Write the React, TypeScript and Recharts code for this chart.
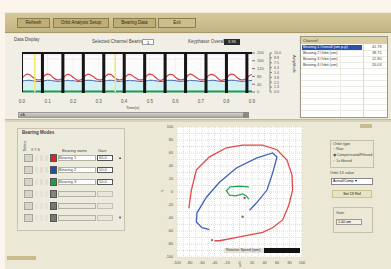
import React from 'react';
import {
  ComposedChart, Line, Area, XAxis, YAxis, ReferenceLine, CartesianGrid,
  ScatterChart, Scatter,
} from 'recharts';

// ---- waveform panel data (time in s, amplitude 0-100 of display range)
const TIME_STEP = 0.01;
const RED_WAVE = [
  35, 42, 46, 44, 39, 34, 31, 31,
  36, 43, 46, 44, 38, 33, 31, 32,
  35, 42, 45, 43, 38, 33, 30, 31,
  36, 43, 46, 43, 39, 34, 31, 31,
  35, 42, 46, 44, 38, 33, 31, 32,
  36, 42, 45, 43, 38, 34, 31, 31,
  35, 43, 46, 44, 39, 33, 30, 31,
  36, 42, 45, 44, 38, 33, 31, 32,
  35, 43, 46, 43, 38, 34, 31, 31,
  36, 42, 45, 44, 39, 33, 30, 31,
  35, 43, 46, 44, 38, 33, 31, 32,
  36, 42, 45,
];
const BLUE_WAVE = [
  28, 29, 30, 30, 29, 28, 27, 27,
  28, 29, 30, 30, 29, 28, 27, 28,
  28, 29, 30, 29, 29, 28, 27, 27,
  28, 30, 30, 30, 29, 28, 27, 27,
  28, 29, 30, 30, 29, 28, 27, 28,
  28, 29, 30, 29, 29, 28, 27, 27,
  28, 29, 30, 30, 29, 28, 27, 27,
  28, 30, 30, 30, 29, 28, 27, 28,
  28, 29, 30, 29, 29, 28, 27, 27,
  28, 29, 30, 30, 29, 28, 27, 27,
  28, 30, 30, 30, 29, 28, 27, 28,
  28, 29, 30,
];
const KEYPHASOR_PULSES = [0.08, 0.16, 0.24, 0.32, 0.4, 0.48, 0.56, 0.64, 0.72, 0.8, 0.88];
const CURSORS = [0.05, 0.365];
const TIME_TICKS = [0, 0.1, 0.2, 0.3, 0.4, 0.5, 0.6, 0.7, 0.8, 0.9];
const RIGHT_TICKS_A = [0, 20, 40, 60, 80, 100];
const RIGHT_TICKS_B = [0, 12.5, 25, 37.5, 50, 62.5, 75, 87.5, 100];
const GREEN_LEVEL = 1;
const PINK_LEVELS = [95, 85];

// ---- orbit plot data (um)
const ORBIT_RED = [
  { x: -81, y: -25 }, { x: -77, y: 3 }, { x: -69, y: 34 }, { x: -48, y: 54 },
  { x: -21, y: 68 }, { x: 5, y: 72 }, { x: 37, y: 72 }, { x: 60, y: 65 },
  { x: 76, y: 49 }, { x: 84, y: 26 }, { x: 85, y: 3 }, { x: 79, y: -20 },
  { x: 69, y: -43 }, { x: 53, y: -55 }, { x: 37, y: -62 }, { x: 0, y: -69 },
  { x: -32, y: -75 }, { x: -40, y: -75 },
];
const ORBIT_BLUE = [
  { x: -48, y: -58 }, { x: -60, y: -55 }, { x: -69, y: -46 }, { x: -68, y: -32 },
  { x: -53, y: -8 }, { x: -32, y: 15 }, { x: -5, y: 37 }, { x: 27, y: 52 },
  { x: 53, y: 60 }, { x: 60, y: 54 }, { x: 53, y: 29 }, { x: 44, y: 3 },
  { x: 27, y: -17 }, { x: 16, y: -28 },
];
const ORBIT_GREEN = [
  { x: 15, y: 8 }, { x: 0, y: 9 }, { x: -15, y: 8 }, { x: -21, y: 2 },
  { x: -16, y: -5 }, { x: -6, y: -6 }, { x: 5, y: -3 }, { x: 11, y: -6 },
  { x: 15, y: -11 },
];
const ORBIT_MARKS = [{ x: 5, y: -38 }, { x: -44, y: -74 }];
const ORBIT_KEY = [{ x: 8, y: -9 }];
const ORBIT_TICKS = [-100, -90, -80, -70, -60, -50, -40, -30, -20, -10, 0, 10, 20, 30, 40, 50, 60, 70, 80, 90, 100];

const BEARINGS = ['Bearing 1', 'Bearing 2', 'Bearing 3', '', '', ''];
const BEARING_COLORS = ['#d8262a', '#1f4fa8', '#1f9e48', '#858378', '#7a786e', '#7a786e'];
const BEARING_GAINS = ['60.0', '50.0', '50.0', '', '', ''];
const TABLE_NAMES = ['Bearing 1 Overall (um p-p)', 'Bearing 2 Orbit (um)', 'Bearing 3 Orbit (um)', 'Bearing 4 Orbit (um)'];
const TABLE_VALUES = ['41.78', '38.75', '12.80', '20.03'];
const TOOLBAR = ['Refresh', 'Orbit Analysis Setup', 'Bearing Data', 'Exit'];

const rows = RED_WAVE.map((r, i) => ({ t: +(i * TIME_STEP).toFixed(2), red: r, blue: BLUE_WAVE[i] }));
const kpData: { t: number; v: number }[] = [{ t: 0, v: 0 }, { t: 0, v: 100 }];
KEYPHASOR_PULSES.forEach((p) => {
  kpData.push({ t: p - 0.002, v: 100 }, { t: p - 0.002, v: 0 }, { t: p + 0.002, v: 0 }, { t: p + 0.002, v: 100 });
});
kpData.push({ t: 0.9, v: 100 });

const FONT = '"Liberation Sans", Arial, sans-serif';
const tiny: React.CSSProperties = { position: 'absolute', fontSize: 4.5, color: '#444', fontFamily: FONT, whiteSpace: 'nowrap', lineHeight: 1 };
const abs = (l: number, t: number, w: number, h: number, extra: React.CSSProperties = {}): React.CSSProperties => ({
  position: 'absolute', left: l, top: t, width: w, height: h, boxSizing: 'border-box', ...extra,
});
const noShape = () => <g />;
const smallDot = (fill: string) => (p: any) => <circle cx={p.cx} cy={p.cy} r={1.2} fill={fill} />;

export default function App() {
  return (
    <div style={abs(0, 0, 391, 269, { background: '#fcf5ee', overflow: 'hidden', fontFamily: FONT })}>
      {/* main window */}
      <div style={abs(5, 12, 386, 257, { background: '#ebe8d6' })} />
      {/* toolbar */}
      <div style={abs(5, 13, 386, 20, { background: 'linear-gradient(#d6c99b,#c3b482)', borderBottom: '1px solid #a89a68' })} />
      {TOOLBAR.map((b, i) => (
        <div key={b} style={abs([17, 53, 113, 158][i], 18, [33, 56, 43, 38][i], 10, {
          background: i === 3 ? '#cdbf8c' : '#bfae78', border: '1px solid #8c7d4e', fontSize: 4.5, color: '#332a10',
          textAlign: 'center', lineHeight: '8px', whiteSpace: 'nowrap', overflow: 'hidden',
        })}>{b}</div>
      ))}
      {/* waveform area background */}
      <div style={abs(5, 34, 294, 86, { background: '#f1efe5' })} />
      <div style={{ ...tiny, left: 14, top: 38 }}>Data Display</div>
      <div style={{ ...tiny, left: 92, top: 40 }}>Selected Channel Bearing 1</div>
      <div style={abs(142, 39, 12, 6, { background: '#fff', border: '1px solid #999', fontSize: 4, textAlign: 'center' })}>1</div>
      <div style={{ ...tiny, left: 188, top: 40 }}>Keyphasor Overall</div>
      <div style={abs(224, 39, 16, 6, { background: '#2b2b2b', color: '#fff', fontSize: 4, textAlign: 'center' })}>3.95</div>

      <div style={{ position: 'absolute', left: 0, top: 45 }}>
        <ComposedChart width={300} height={62} margin={{ top: 8, right: 16, left: 22, bottom: 3 }}>
          <CartesianGrid stroke="#f6eef3" fill="#fdfcfd" yAxisId="l" />
          <XAxis type="number" dataKey="t" domain={[0, 0.9]} ticks={TIME_TICKS} height={12}
            tick={{ fontSize: 4.5, fill: '#555' }} tickLine={false} axisLine={false}
            tickFormatter={(v: number) => v.toFixed(1)} allowDataOverflow interval={0} />
          <YAxis yAxisId="l" hide domain={[0, 100]} type="number" />
          <YAxis yAxisId="r1" orientation="right" domain={[0, 100]} ticks={RIGHT_TICKS_A} width={18} interval={0}
            tick={{ fontSize: 4, fill: '#555' }} tickSize={3} axisLine={false} tickLine={{ stroke: '#777' }}
            tickFormatter={(v: number) => (v * 2).toFixed(0)} />
          <YAxis yAxisId="r2" orientation="right" domain={[0, 100]} ticks={RIGHT_TICKS_B} width={14} interval={0}
            tick={{ fontSize: 3.6, fill: '#555' }} tickSize={2} axisLine={{ stroke: '#888' }} tickLine={{ stroke: '#888' }}
            tickFormatter={(v: number) => (v / 10).toFixed(1)} />
          <Line yAxisId="r1" data={rows} dataKey="red" stroke="transparent" dot={false} isAnimationActive={false} />
          <Line yAxisId="r2" data={rows} dataKey="blue" stroke="transparent" dot={false} isAnimationActive={false} />
          {PINK_LEVELS.map((y) => (
            <ReferenceLine key={y} yAxisId="l" y={y} stroke="#f1dfe9" strokeWidth={0.8} />
          ))}
          <Area yAxisId="l" data={rows} dataKey="blue" type="monotone" stroke="#3d5fb0" strokeWidth={1}
            fill="#d3f1f4" fillOpacity={1} baseValue={0} isAnimationActive={false} />
          <Line yAxisId="l" data={rows} dataKey="red" type="monotone" stroke="#d9413f" strokeWidth={1.2}
            dot={false} isAnimationActive={false} />
          <ReferenceLine yAxisId="l" y={GREEN_LEVEL} stroke="#1e9c4e" strokeWidth={2} />
          {CURSORS.map((x) => (
            <ReferenceLine key={x} yAxisId="l" x={x} stroke="#eee86a" strokeWidth={1.5} />
          ))}
          <Line yAxisId="l" data={kpData} dataKey="v" type="linear" stroke="#151515" strokeWidth={2}
            dot={false} isAnimationActive={false} />
        </ComposedChart>
      </div>
      <div style={{ ...tiny, left: 285, top: 62, transform: 'rotate(90deg)', fontSize: 4 }}>Amplitude</div>
      <div style={{ ...tiny, left: 126, top: 106, fontSize: 4 }}>Time(s)</div>
      {/* scrollbar */}
      <div style={abs(18, 112, 231, 6, { background: 'linear-gradient(#d2d2cc,#a9a9a3)', border: '1px solid #999' })} />
      <div style={{ ...tiny, left: 20, top: 113, fontSize: 4 }}>dA</div>
      <div style={abs(243, 112, 6, 6, { background: '#8a8a84' })} />

      {/* value table */}
      <div style={abs(300, 36, 88, 82, { background: '#fff', border: '1px solid #9c9884' })} />
      <div style={abs(301, 37, 86, 7, { background: '#d9cda2' })} />
      <div style={{ ...tiny, left: 303, top: 38.5, fontSize: 4 }}>Channel</div>
      {[50, 56, 62, 68, 74, 80, 86, 92, 98, 104, 110].map((y) => (
        <div key={y} style={abs(301, y, 86, 1, { background: '#ecebe4' })} />
      ))}
      <div style={abs(340, 44, 1, 73, { background: '#ecebe4' })} />
      <div style={abs(363, 44, 1, 73, { background: '#dcdad0' })} />
      <div style={abs(302, 45, 60, 5, { background: '#2a52aa' })} />
      {TABLE_NAMES.map((n, i) => (
        <React.Fragment key={n}>
          <div style={{ ...tiny, left: 303, top: 45.5 + i * 6, fontSize: 3.8, color: i === 0 ? '#fff' : '#333' }}>{n}</div>
          <div style={{ ...tiny, left: 372, top: 45.5 + i * 6, fontSize: 3.8 }}>{TABLE_VALUES[i]}</div>
        </React.Fragment>
      ))}

      {/* divider */}
      <div style={abs(5, 119, 386, 3, { background: '#d9d3b8', borderTop: '1px solid #c2bb9c' })} />
      <div style={abs(360, 124, 12, 4, { background: '#c9bd90' })} />

      {/* bearing modes group */}
      <div style={abs(17, 128, 108, 103, { border: '1px solid #c7c3b0', background: '#edebdd' })} />
      <div style={{ ...tiny, left: 22, top: 131, fontWeight: 'bold' }}>Bearing Modes</div>
      <div style={{ ...tiny, left: 21, top: 144, fontSize: 3.8, transform: 'rotate(-90deg)' }}>Select</div>
      <div style={{ ...tiny, left: 31, top: 149, fontSize: 3.5 }}>X  Y  S</div>
      <div style={{ ...tiny, left: 62, top: 149, fontSize: 4 }}>Bearing name</div>
      <div style={{ ...tiny, left: 98, top: 149, fontSize: 4 }}>Gain</div>
      {BEARINGS.map((b, i) => {
        const y = 154 + i * 12;
        const on = i < 3;
        return (
          <React.Fragment key={i}>
            <div style={abs(24, y, 9, 8, { background: '#d6d4ca', border: '1px solid #a9a697' })} />
            <div style={abs(35, y + 1, 3, 6, { background: on ? '#dbe9d0' : '#e6e4d8' })} />
            <div style={abs(40, y + 1, 3, 6, { background: on ? '#ead7d6' : '#e6e4d8' })} />
            <div style={abs(45, y + 1, 3, 6, { background: on ? '#dce4d0' : '#e6e4d8' })} />
            <div style={abs(50, y, 7, 8, { background: BEARING_COLORS[i], border: '1px solid #555' })} />
            <div style={abs(58, y + 1, 38, 6, { background: on ? '#fff' : '#e9e7dc', border: '1px solid #b5b2a2' })} />
            <div style={{ ...tiny, left: 59, top: y + 2, fontSize: 4 }}>{b}</div>
            <div style={abs(97, y + 1, 16, 6, { background: on ? '#fff' : '#e9e7dc', border: on ? '1px solid #555' : '1px solid #c4c1b2' })} />
            <div style={{ ...tiny, left: 99, top: y + 2, fontSize: 4 }}>{BEARING_GAINS[i]}</div>
          </React.Fragment>
        );
      })}
      <div style={{ ...tiny, left: 118, top: 156, fontSize: 4 }}>▲</div>
      <div style={{ ...tiny, left: 118, top: 216, fontSize: 4 }}>▼</div>
      <div style={abs(7, 256, 29, 4, { background: '#c9bb8a' })} />

      {/* orbit plot */}
      <div style={{ position: 'absolute', left: 150, top: 120 }}>
        <ScatterChart width={160} height={149} margin={{ top: 7, right: 8, left: 7, bottom: 3 }}>
          <CartesianGrid stroke="#dcdcdc" strokeDasharray="1 1" fill="#fff" />
          <XAxis type="number" dataKey="x" domain={[-100, 100]} ticks={ORBIT_TICKS} height={9}
            tick={{ fontSize: 3.8, fill: '#555' }} tickSize={2} axisLine={false} tickLine={false}
            tickFormatter={(v: number) => (v % 20 === 0 ? String(v) : '')} interval={0} />
          <YAxis type="number" dataKey="y" domain={[-100, 100]} ticks={ORBIT_TICKS} width={20}
            tick={{ fontSize: 3.8, fill: '#555' }} tickSize={2} axisLine={false} tickLine={false}
            tickFormatter={(v: number) => (v % 20 === 0 ? String(v) : '')} interval={0} />
          <Scatter data={ORBIT_RED} line={{ stroke: '#e0494a', strokeWidth: 1.3 }} lineType="joint"
            shape={noShape} isAnimationActive={false} />
          <Scatter data={ORBIT_BLUE} line={{ stroke: '#3f62b4', strokeWidth: 1.3 }} lineType="joint"
            shape={noShape} isAnimationActive={false} />
          <Scatter data={ORBIT_GREEN} line={{ stroke: '#27a455', strokeWidth: 1.3 }} lineType="joint"
            shape={noShape} isAnimationActive={false} />
          <Scatter data={ORBIT_MARKS} shape={smallDot('#777')} isAnimationActive={false} />
          <Scatter data={ORBIT_KEY} shape={smallDot('#d8307a')} isAnimationActive={false} />
        </ScatterChart>
      </div>
      <div style={{ ...tiny, left: 162, top: 189, fontSize: 4, transform: 'rotate(-90deg)' }}>Y</div>
      <div style={{ ...tiny, left: 239, top: 265, fontSize: 3.5 }}>X</div>
      <div style={abs(224, 248, 40, 5, { background: '#e4e2d8', fontSize: 3.6, color: '#333', whiteSpace: 'nowrap', lineHeight: '5px', paddingLeft: 2 })}>Rotation Speed (rpm)</div>
      <div style={abs(264, 248, 36, 5, { background: '#111' })} />

      {/* orbit options */}
      <div style={abs(330, 140, 44, 28, { border: '1px solid #c3bfab' })} />
      <div style={{ ...tiny, left: 333, top: 142, fontSize: 4 }}>Orbit type</div>
      <div style={{ ...tiny, left: 333, top: 148, fontSize: 3.6 }}>○ Raw</div>
      <div style={{ ...tiny, left: 333, top: 154, fontSize: 3.6 }}>◉ Compensated/Filtered</div>
      <div style={{ ...tiny, left: 333, top: 160, fontSize: 3.6 }}>○ 1x filtered</div>
      <div style={{ ...tiny, left: 330, top: 172, fontSize: 3.8 }}>Orbit 1X value</div>
      <div style={abs(331, 178, 42, 7, { background: '#fff', border: '1px solid #888', fontSize: 3.6, lineHeight: '5px', paddingLeft: 1 })}>Actual/Comp ▾</div>
      <div style={abs(332, 190, 40, 8, { background: '#e8e4c0', border: '1px solid #c9c48e', fontSize: 3.6, lineHeight: '6px', textAlign: 'center' })}>Set 1X Ref</div>
      <div style={abs(333, 207, 40, 26, { border: '1px solid #c3bfab' })} />
      <div style={{ ...tiny, left: 336, top: 212, fontSize: 3.8 }}>Gain</div>
      <div style={abs(336, 219, 26, 6, { background: '#f4f2e8', border: '1px solid #999', fontSize: 3.6, lineHeight: '4px', paddingLeft: 1 })}>1.00 um</div>
    </div>
  );
}
